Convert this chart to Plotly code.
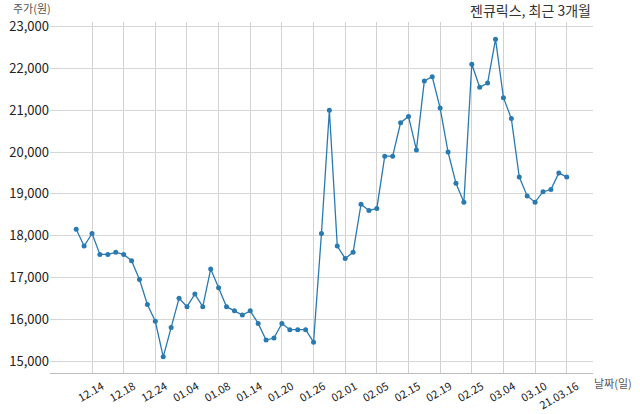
import plotly.graph_objects as go

dates = ["12.10", "12.11", "12.14", "12.15", "12.16", "12.17", "12.18", "12.21", "12.22", "12.23",
         "12.24", "12.28", "12.29", "12.30", "01.04", "01.05", "01.06", "01.07", "01.08", "01.11",
         "01.12", "01.13", "01.14", "01.15", "01.18", "01.19", "01.20", "01.21", "01.22", "01.25",
         "01.26", "01.27", "01.28", "01.29", "02.01", "02.02", "02.03", "02.04", "02.05", "02.08",
         "02.09", "02.10", "02.15", "02.16", "02.17", "02.18", "02.19", "02.22", "02.23", "02.24",
         "02.25", "02.26", "03.02", "03.03", "03.04", "03.05", "03.08", "03.09", "03.10", "03.11",
         "03.12", "03.15", "03.16"]

prices = [18150, 17750, 18050, 17550, 17550, 17600, 17550, 17400, 16950, 16350,
          15950, 15100, 15800, 16500, 16300, 16600, 16300, 17200, 16750, 16300,
          16200, 16100, 16200, 15900, 15500, 15550, 15900, 15750, 15750, 15750,
          15450, 18050, 21000, 17750, 17450, 17600, 18750, 18600, 18650, 19900,
          19900, 20700, 20850, 20050, 21700, 21800, 21050, 20000, 19250, 18800,
          22100, 21550, 21650, 22700, 21300, 20800, 19400, 18950, 18800, 19050,
          19100, 19500, 19400]

tick_vals = ["12.14", "12.18", "12.24", "01.04", "01.08", "01.14", "01.20", "01.26",
             "02.01", "02.05", "02.15", "02.19", "02.25", "03.04", "03.10", "03.16"]
tick_text = ["12.14", "12.18", "12.24", "01.04", "01.08", "01.14", "01.20", "01.26",
             "02.01", "02.05", "02.15", "02.19", "02.25", "03.04", "03.10", "21.03.16"]
y_ticks = [15000, 16000, 17000, 18000, 19000, 20000, 21000, 22000, 23000]

FONT = "Noto Sans CJK KR"

fig = go.Figure()
fig.add_trace(go.Scatter(
    x=dates, y=prices, mode="lines+markers",
    line=dict(color="#2a7ab0", width=1.3),
    marker=dict(color="#2a7ab0", size=5),
    showlegend=False,
))

fig.update_layout(
    width=640, height=414,
    margin=dict(l=50, r=47, t=22, b=41),
    paper_bgcolor="white", plot_bgcolor="white",
    font=dict(family=FONT, color="#222"),
    xaxis=dict(
        type="category", categoryorder="array", categoryarray=dates,
        range=[-3.31, 65.32], automargin=False,
        tickmode="array", tickvals=tick_vals, ticktext=tick_text,
        tickangle=-30, tickfont=dict(size=11, color="#222"),
        ticklabelshift=10, ticklabelstandoff=2,
        showgrid=True, gridcolor="#d2d2d2", gridwidth=1,
        showline=True, linecolor="#bdbdbd", linewidth=1,
        ticks="", zeroline=False,
    ),
    yaxis=dict(
        range=[14713, 23110], automargin=False,
        tickmode="array", tickvals=y_ticks,
        tickformat=",d", tickfont=dict(size=13, color="#222"),
        ticklabelstandoff=0,
        showgrid=True, gridcolor="#d6d6d6", gridwidth=1,
        showline=False, ticks="", zeroline=False,
    ),
    annotations=[
        dict(text="젠큐릭스, 최근 3개월", xref="paper", yref="paper", x=1.0, y=1.0,
             xanchor="right", yanchor="bottom", yshift=0, showarrow=False,
             font=dict(size=14, color="#333", family=FONT)),
        dict(text="주가(원)", xref="paper", yref="paper", x=0, y=1.0,
             xanchor="right", yanchor="bottom", xshift=3, yshift=4, showarrow=False,
             font=dict(size=11, color="#555", family=FONT)),
        dict(text="날짜(일)", xref="paper", yref="paper", x=1.0, y=0,
             xanchor="left", yanchor="top", xshift=-1, yshift=0, showarrow=False,
             font=dict(size=11, color="#555", family=FONT)),
    ],
)

fig.write_html("out.html",
               config={"displayModeBar": False},
               post_script="document.body.style.margin='0';document.body.style.overflow='hidden';")
